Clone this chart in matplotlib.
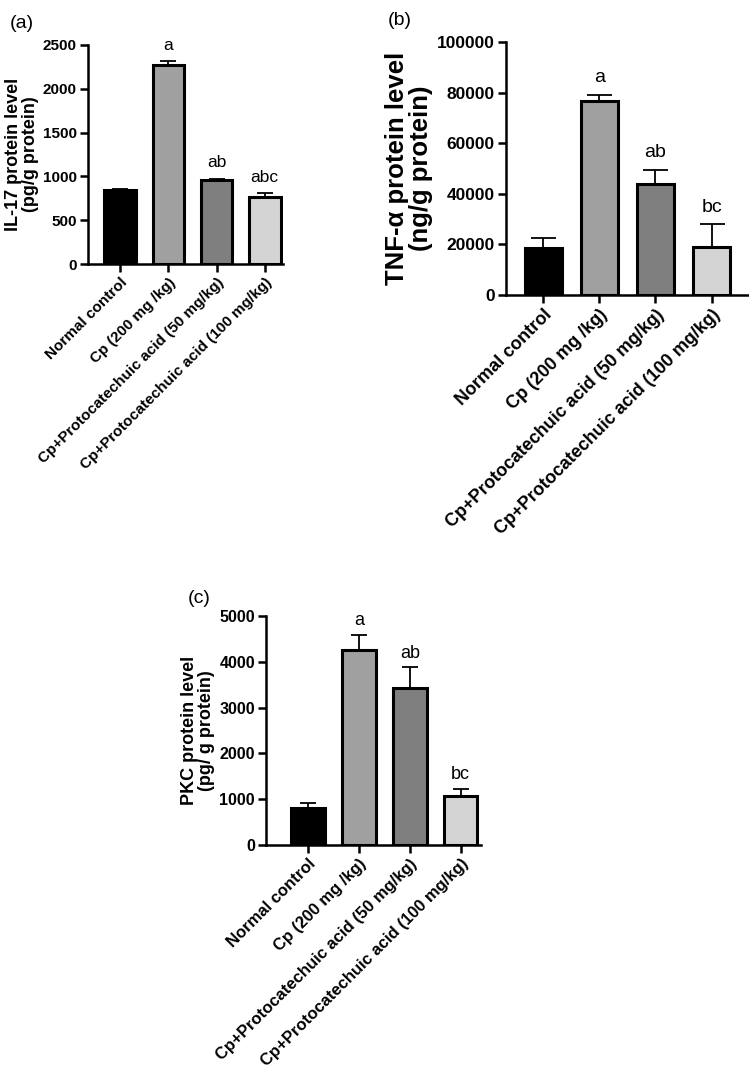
import matplotlib
matplotlib.use("Agg")
import matplotlib.pyplot as plt

plt.rcParams['font.family'] = ['Liberation Sans', 'DejaVu Sans']

groups = ["Normal control", "Cp (200 mg /kg)", "Cp+Protocatechuic acid (50 mg/kg)",
          "Cp+Protocatechuic acid (100 mg/kg)"]
colors = ["#000000", "#a0a0a0", "#7f7f7f", "#d4d4d4"]

il17_mean = [850, 2270, 960, 760]
il17_err = [10, 45, 15, 50]
il17_sig = ["", "a", "ab", "abc"]

tnf_mean = [18500, 76500, 44000, 19000]
tnf_err = [4000, 2700, 5500, 9000]
tnf_sig = ["", "a", "ab", "bc"]

pkc_mean = [800, 4250, 3430, 1060]
pkc_err = [120, 340, 450, 160]
pkc_sig = ["", "a", "ab", "bc"]

W, H = 749, 1079
fig = plt.figure(figsize=(W / 100, H / 100), dpi=100)


def px_axes(x0, x1, y_top, y_bot):
    return fig.add_axes([x0 / W, 1 - y_bot / H, (x1 - x0) / W, (y_bot - y_top) / H])


def panel(ax, means, errs, sigs, ymax, step, xlim, ylabel, tick_fs, ylab_fs, xlab_fs,
          sig_fs, sig_off, capsize, labelpad):
    x = list(range(len(means)))
    ax.bar(x, means, width=0.66, color=colors, edgecolor="black", linewidth=2.2, zorder=2)
    ax.errorbar(x, means, yerr=[[0] * len(errs), errs], fmt="none", ecolor="black",
                elinewidth=1.3, capsize=capsize, capthick=1.3, zorder=1)
    for xi, m, e, s in zip(x, means, errs, sigs):
        if s:
            ax.annotate(s, (xi, m + e), xytext=(0, sig_off), textcoords="offset points",
                        ha="center", va="baseline", fontsize=sig_fs)
    ax.set_xlim(*xlim)
    ax.set_ylim(0, ymax)
    ax.set_yticks(range(0, ymax + 1, step))
    ax.set_xticks(x)
    ax.set_xticklabels(groups, rotation=45, ha="right", rotation_mode="anchor",
                       fontsize=xlab_fs, fontweight="bold")
    for lab in ax.get_yticklabels():
        lab.set_fontweight("bold")
        lab.set_fontsize(tick_fs)
    ax.spines["top"].set_visible(False)
    ax.spines["right"].set_visible(False)
    ax.spines["left"].set_linewidth(1.8)
    ax.spines["bottom"].set_linewidth(1.8)
    ax.tick_params(axis="both", width=1.8, length=6, pad=2)
    ax.set_ylabel(ylabel, fontsize=ylab_fs, fontweight="bold", linespacing=1.0,
                  labelpad=labelpad)


ax_a = px_axes(88, 283, 45, 264)
panel(ax_a, il17_mean, il17_err, il17_sig, 2500, 500, (-0.67, 3.38),
      "IL-17 protein level\n(pg/g protein)", 11, 13, 11, 12.5, 8, 6, 3)
fig.text(10 / W, 1 - 28 / H, "(a)", fontsize=14, ha="left", va="baseline")

ax_b = px_axes(506, 748, 42, 295)
panel(ax_b, tnf_mean, tnf_err, tnf_sig, 100000, 20000, (-0.66, 3.65),
      "TNF-α protein level\n(ng/g protein)", 12.5, 18.5, 13, 14, 9, 9, 3)
fig.text(388 / W, 1 - 25 / H, "(b)", fontsize=14, ha="left", va="baseline")

ax_c = px_axes(266, 481, 616, 845)
panel(ax_c, pkc_mean, pkc_err, pkc_sig, 5000, 1000, (-0.83, 3.40),
      "PKC protein level\n(pg/ g protein)", 11.5, 13, 12, 13, 7, 6, 3)
fig.text(188 / W, 1 - 603 / H, "(c)", fontsize=14, ha="left", va="baseline")

fig.savefig("out.png", dpi=100)
